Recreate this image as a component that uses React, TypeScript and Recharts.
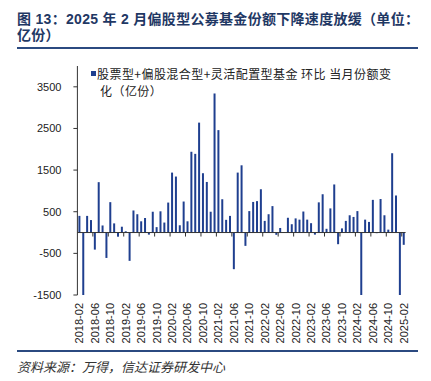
import React from "react";
import { BarChart, Bar, XAxis, YAxis, ReferenceLine } from "recharts";

// monthly categories, 2018-02 .. 2025-02
const START_YEAR = 2018;
const START_MONTH = 2;
const COUNT = 85;
const months: string[] = [];
for (let i = 0; i < COUNT; i++) {
  const m = START_MONTH - 1 + i;
  const y = START_YEAR + Math.floor(m / 12);
  const mm = (m % 12) + 1;
  months.push(`${y}-${mm < 10 ? "0" + mm : mm}`);
}

// 当月份额变化（亿份）
const changes = [
  400, -1500, 400, 300, -410, 1210, 170, -610, 730, 220, -100, 140,
  30, -680, 530, 440, 270, 350, -50, 500, 130, 510, 240, 720,
  1440, 1345, 175, 745, 270, 1940, 1890, 2640, 1425, 1215, 500, 3340,
  2460, 800, 305, 400, -880, 1440, 1615, -320, 515, 735, 755, 1040,
  280, 440, 635, -55, 110, 10, 355, 200, 340, 310, 505, 310,
  225, -50, 725, 920, 90, 580, 1155, -280, 100, 280, 415, 375,
  515, -1500, 310, 255, 785, -15, 805, 415, 70, 1905, 890, -1500,
  -295,
];

const yTicks = [-1500, -500, 500, 1500, 2500, 3500];

const data = months.map((month, i) => ({ month, value: changes[i] }));

const NAVY = "#1f3f8f";
const TITLE_COLOR = "#1f3864";
const PLOT_TOP = 66;
const PLOT_H = 229;
const Y_MIN = -1500;
const Y_MAX = 4000;
const ZERO_Y = PLOT_TOP + (PLOT_H * Y_MAX) / (Y_MAX - Y_MIN);
const PLOT_LEFT = 77.4;
const PLOT_RIGHT = 405.6;
const STEP = (PLOT_RIGHT - PLOT_LEFT) / COUNT;
const LABEL_TOP = 303;

// rotated month label, plus Excel-style tick mark between categories on the zero line
// eslint-disable-next-line @typescript-eslint/no-explicit-any
function MonthTick(props: any) {
  const { x, payload } = props;
  const idx = months.indexOf(payload.value);
  const tx = x + 3.5 * STEP;
  return (
    <g>
      <text
        x={0}
        y={0}
        transform={`translate(${x + 4},${LABEL_TOP}) rotate(-90)`}
        textAnchor="end"
        fontSize={11}
        fill="#222"
        fontFamily="'Liberation Sans', Arial, sans-serif"
      >
        {payload.value}
      </text>
      {idx < COUNT - 1 && (
        <line x1={tx} x2={tx} y1={ZERO_Y} y2={ZERO_Y + 4} stroke="#333" strokeWidth={1} />
      )}
    </g>
  );
}

export default function App() {
  return (
    <div
      style={{
        position: "absolute",
        left: 0,
        top: 0,
        width: 431,
        height: 381,
        background: "#fff",
        fontFamily: "'Liberation Sans', 'Noto Sans CJK SC', sans-serif",
      }}
    >
      <div
        style={{
          position: "absolute",
          left: 17,
          top: 11,
          fontSize: 14,
          lineHeight: "16px",
          fontWeight: "bold",
          letterSpacing: 0.3,
          color: TITLE_COLOR,
          whiteSpace: "nowrap",
        }}
      >
        <div>图 13：2025 年 2 月偏股型公募基金份额下降速度放缓（单位：</div>
        <div>亿份）</div>
      </div>
      <div
        style={{ position: "absolute", left: 17, top: 47, width: 401, height: 2, background: "#2b4a80" }}
      />

      <div style={{ position: "absolute", left: 91, top: 71, width: 5, height: 5, background: NAVY }} />
      <div
        style={{
          position: "absolute",
          left: 97,
          top: 65,
          fontSize: 12,
          lineHeight: "17px",
          letterSpacing: 0.45,
          color: "#222",
          fontFamily: "'Noto Sans CJK SC', sans-serif",
          whiteSpace: "nowrap",
        }}
      >
        <div>股票型+偏股混合型+灵活配置型基金 环比 当月份额变</div>
        <div style={{ paddingLeft: 3 }}>化（亿份）</div>
      </div>

      <div style={{ position: "absolute", left: 0, top: 0 }}>
        <BarChart
          width={431}
          height={381}
          data={data}
          margin={{ top: PLOT_TOP, right: 431 - PLOT_RIGHT, bottom: 0, left: 0 }}
        >
          <YAxis
            width={PLOT_LEFT}
            domain={[Y_MIN, Y_MAX]}
            ticks={yTicks}
            interval={0}
            tick={{ fill: "#222", fontSize: 11, fontFamily: "'Liberation Sans', Arial, sans-serif" }}
            tickSize={4}
            tickMargin={12}
            axisLine={{ stroke: "#333" }}
            tickLine={{ stroke: "#333" }}
          />
          <XAxis
            dataKey="month"
            height={86}
            interval={3}
            axisLine={false}
            tickLine={false}
            tick={<MonthTick />}
          />
          <ReferenceLine y={0} stroke="#333" strokeWidth={1} />
          <Bar dataKey="value" fill={NAVY} barSize={2} isAnimationActive={false} />
        </BarChart>
      </div>

      <div
        style={{ position: "absolute", left: 17, top: 350, width: 401, height: 1.5, background: "#2b4a80" }}
      />
      <div
        style={{
          position: "absolute",
          left: 17,
          top: 358,
          fontSize: 13,
          lineHeight: "17px",
          fontStyle: "italic",
          color: "#333",
          fontFamily: "'Noto Sans CJK SC', sans-serif",
          whiteSpace: "nowrap",
        }}
      >
        资料来源：万得，信达证券研发中心
      </div>
    </div>
  );
}
